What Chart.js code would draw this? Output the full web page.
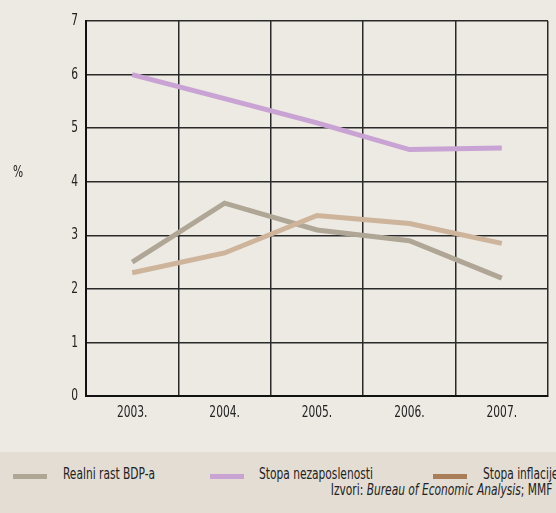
<!DOCTYPE html>
<html><head><meta charset="utf-8">
<script src="https://cdn.jsdelivr.net/npm/chart.js@4"></script>
<style>
html,body{margin:0;padding:0;background:#ede9e3;width:556px;height:513px;overflow:hidden;font-family:"DejaVu Sans Condensed","DejaVu Sans",sans-serif;}
#wrap{position:relative;width:556px;height:452px;}
#band{position:absolute;left:0;top:452px;width:556px;height:61px;background:#e3ddd4;color:#222;font-size:16px;line-height:18px;}
.sw{position:absolute;height:5px;width:34px;top:22px;}
.lt{position:absolute;top:13px;white-space:nowrap;transform:scaleX(0.74);transform-origin:0 0;}
#src{position:absolute;right:4px;top:29px;white-space:nowrap;transform:scaleX(0.74);transform-origin:100% 0;}
#pct{position:absolute;left:13px;top:163px;font-size:16px;line-height:18px;color:#222;transform:scaleX(0.74);transform-origin:0 0;}
</style></head><body>
<div id="wrap"><canvas id="c" width="556" height="452"></canvas><div id="pct">%</div></div>
<div id="band">
 <div class="sw" style="left:13px;background:#b0a696"></div><div class="lt" style="left:63px">Realni rast BDP-a</div>
 <div class="sw" style="left:210px;background:#c9a3d3"></div><div class="lt" style="left:259px">Stopa nezaposlenosti</div>
 <div class="sw" style="left:433px;background:#a97e58"></div><div class="lt" style="left:483px">Stopa inflacije</div>
 <div id="src">Izvori: <i>Bureau of Economic Analysis</i>; MMF</div>
</div>
<script>
const categories = ["2003.", "2004.", "2005.", "2006.", "2007."];
const gdpGrowth = [2.5, 3.6, 3.1, 2.9, 2.2];
const unemployment = [6.0, 5.55, 5.1, 4.6, 4.63];
const inflation = [2.3, 2.67, 3.37, 3.22, 2.85];
const yTicks = [0, 1, 2, 3, 4, 5, 6, 7];

const canvas = document.getElementById('c');
const ctx = canvas.getContext('2d');
const origFill = ctx.fillText.bind(ctx);
ctx.fillText = function(t, x, y) { const w = ctx.measureText(t).width; origFill(t, x, y, w * 0.74); };

const font = {family: '"DejaVu Sans Condensed","DejaVu Sans",sans-serif', size: 16};
new Chart(canvas, {
  type: 'line',
  data: {
    labels: categories,
    datasets: [
      {label: 'Realni rast BDP-a', data: gdpGrowth, borderColor: '#b0a696', borderWidth: 5, pointRadius: 0, tension: 0, order: 2},
      {label: 'Stopa nezaposlenosti', data: unemployment, borderColor: '#c9a3d3', borderWidth: 5, pointRadius: 0, tension: 0, order: 1},
      {label: 'Stopa inflacije', data: inflation, borderColor: '#cdb49a', borderWidth: 5, pointRadius: 0, tension: 0, order: 0}
    ]
  },
  options: {
    responsive: false, animation: false, devicePixelRatio: 1,
    layout: {padding: {left: 0, right: 8, top: 21, bottom: 0}},
    plugins: {legend: {display: false}, tooltip: {enabled: false}},
    scales: {
      x: {
        offset: true,
        grid: {offset: true, color: '#2a2a2a', lineWidth: 1.5, drawTicks: false},
        border: {color: '#111', width: 2},
        ticks: {color: '#222', font: font, padding: 7, maxRotation: 0},
        afterFit: s => { s.height = 56; }
      },
      y: {
        min: 0, max: 7,
        afterBuildTicks: s => { s.ticks = yTicks.map(v => ({value: v})); },
        grid: {color: '#2a2a2a', lineWidth: 1.5, drawTicks: false},
        border: {color: '#111', width: 2},
        ticks: {color: '#222', font: font, padding: 8},
        afterFit: s => { s.width = 86; }
      }
    }
  }
});
</script>
</body></html>
